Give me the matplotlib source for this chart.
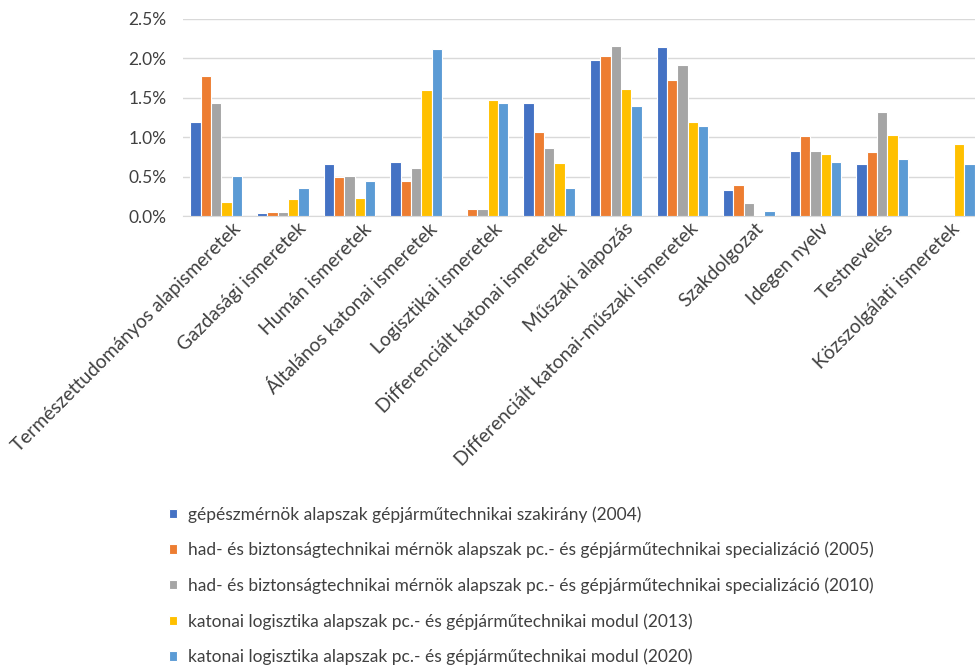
import numpy as np
import matplotlib
matplotlib.use('Agg')
import matplotlib.pyplot as plt
import matplotlib.transforms as mtransforms
from matplotlib.ticker import PercentFormatter

plt.rcParams['font.family'] = ['Lato', 'DejaVu Sans']

# categories and series (share of total credits, %)
categories = ['Természettudományos alapismeretek', 'Gazdasági ismeretek', 'Humán ismeretek',
              'Általános katonai ismeretek', 'Logisztikai ismeretek', 'Differenciált katonai ismeretek',
              'Műszaki alapozás', 'Differenciált katonai-műszaki ismeretek', 'Szakdolgozat',
              'Idegen nyelv', 'Testnevelés', 'Közszolgálati ismeretek']
s2004 = [1.19, 0.035, 0.66, 0.69, 0.0, 1.44, 1.98, 2.14, 0.33, 0.82, 0.66, 0.0]
s2005 = [1.78, 0.05, 0.50, 0.45, 0.093, 1.07, 2.03, 1.73, 0.40, 1.01, 0.81, 0.0]
s2010 = [1.44, 0.05, 0.51, 0.61, 0.093, 0.86, 2.16, 1.92, 0.16, 0.82, 1.32, 0.0]
s2013 = [0.18, 0.22, 0.23, 1.60, 1.47, 0.67, 1.61, 1.19, 0.02, 0.79, 1.03, 0.91]
s2020 = [0.51, 0.36, 0.44, 2.12, 1.43, 0.36, 1.40, 1.14, 0.07, 0.69, 0.73, 0.66]
series_labels = ['gépészmérnök alapszak gépjárműtechnikai szakirány (2004)',
                 'had- és biztonságtechnikai mérnök alapszak pc.- és gépjárműtechnikai specializáció (2005)',
                 'had- és biztonságtechnikai mérnök alapszak pc.- és gépjárműtechnikai specializáció (2010)',
                 'katonai logisztika alapszak pc.- és gépjárműtechnikai modul (2013)',
                 'katonai logisztika alapszak pc.- és gépjárműtechnikai modul (2020)']
colors = ['#4472C4', '#ED7D31', '#A5A5A5', '#FFC000', '#5B9BD5']

fig = plt.figure(figsize=(9.75, 6.69), dpi=100)
ax = fig.add_axes([0.1877, 0.677, 0.8195, 0.2946])

x = np.arange(len(categories))
w = 0.155
handles = []
for i, (vals, lab, c) in enumerate(zip([s2004, s2005, s2010, s2013, s2020], series_labels, colors)):
    b = ax.bar(x + (i - 2) * w, vals, w, color=c, edgecolor='white', linewidth=0.8, label=lab, zorder=3)
    handles.append(b)

ax.set_xlim(-0.5, 11.5)
ax.set_ylim(0, 2.5)
ax.set_yticks(np.arange(0, 2.51, 0.5))
ax.yaxis.set_major_formatter(PercentFormatter(decimals=1))
ax.grid(axis='y', color='#D9D9D9', linewidth=1, zorder=0)
for s in ['top', 'right', 'left']:
    ax.spines[s].set_visible(False)
ax.spines['bottom'].set_color('#D9D9D9')
ax.tick_params(axis='y', length=0, pad=12, labelsize=12.5, labelcolor='#404040')
ax.tick_params(axis='x', length=0, labelsize=13.9, labelcolor='#404040')

ax.set_xticks(x)
ax.set_xticklabels(categories, rotation=45, ha='right', va='top', rotation_mode='anchor')
# excel-like placement: label end a bit right of the tick
for i, t in enumerate(ax.get_xticklabels()):
    dx = 0.16 - i * 0.013
    t.set_transform(t.get_transform() + mtransforms.ScaledTranslation(dx, 0.01, fig.dpi_scale_trans))

fig.legend(handles=handles, labels=series_labels, loc='upper left', bbox_to_anchor=(0.157, 0.267),
           frameon=False, fontsize=12.5, handlelength=0.46, handleheight=0.46, handletextpad=0.63,
           labelspacing=1.1, labelcolor='#404040')

fig.savefig('out.png', dpi=100)
